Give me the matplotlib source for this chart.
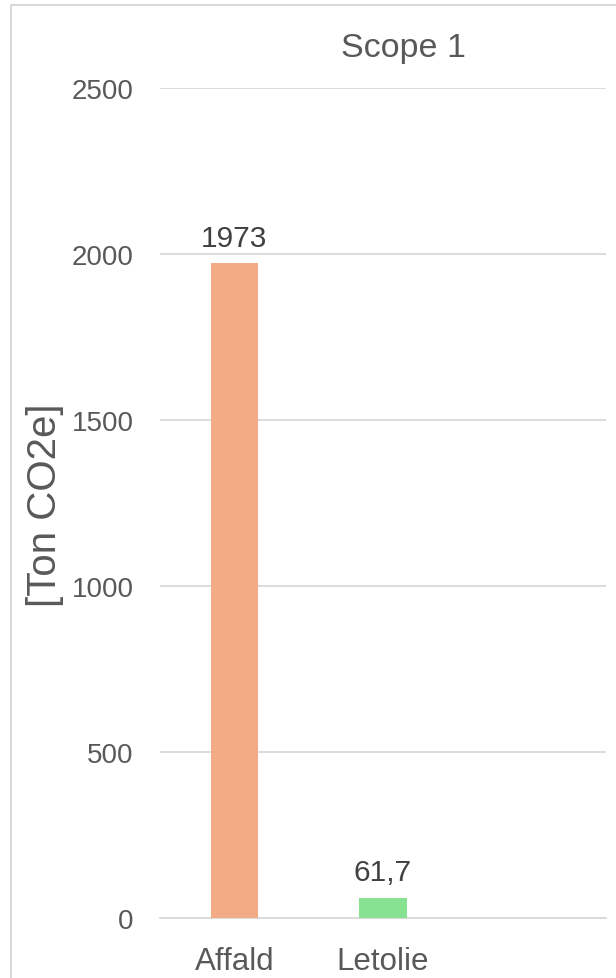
import matplotlib
matplotlib.use("Agg")
import matplotlib.pyplot as plt
from matplotlib.patches import Rectangle

categories = ["Affald", "Letolie", ""]
values = [1973, 61.7, 0]
labels = ["1973", "61,7", None]
bar_colors = ["#F2AB84", "#86E290", "#FFFFFF"]
yticks = [0, 500, 1000, 1500, 2000, 2500]

plt.rcParams['font.family'] = ['Liberation Sans', 'DejaVu Sans']

W, H = 616, 979
fig = plt.figure(figsize=(W / 100, H / 100), dpi=100)

# outer chart border (cropped on right/bottom)
fig.patches.append(Rectangle((11 / W, -0.1), 1.2, (H - 6) / H + 0.1,
                             transform=fig.transFigure, fill=False,
                             edgecolor="#D9D9D9", linewidth=1.5))

ax = fig.add_axes([160 / W, 1 - 919 / H, (606 - 160) / W, (919 - 89) / H])
x = list(range(len(categories)))
ax.bar(x[:2], values[:2], width=0.32, color=bar_colors[:2], zorder=3)
ax.set_xlim(-0.5, 2.5)
ax.set_ylim(0, 2500)
ax.set_yticks(yticks)
ax.set_yticklabels([str(t) for t in yticks])
ax.set_xticks(x)
ax.set_xticklabels(categories)
ax.grid(axis="y", color="#D9D9D9", linewidth=1.3, zorder=0)
for s in ["top", "right", "left"]:
    ax.spines[s].set_visible(False)
ax.spines["bottom"].set_color("#D9D9D9")
ax.spines["bottom"].set_linewidth(1.3)
ax.tick_params(axis="y", length=0, pad=19, labelsize=20, labelcolor="#595959")
ax.tick_params(axis="x", length=0, pad=20, labelsize=22.5, labelcolor="#595959")

for xi, v, lab in zip(x, values, labels):
    if lab:
        ax.annotate(lab, (xi, v), xytext=(0, 8), textcoords="offset points",
                    ha="center", va="bottom", fontsize=21.5, color="#404040")

fig.text(403 / W, 1 - 48 / H, "Scope 1", ha="center", va="center",
         fontsize=24.5, color="#595959")
fig.text(45 / W, 1 - 505 / H, "[Ton CO2e]", ha="center", va="center",
         rotation=90, fontsize=29, color="#595959")

fig.savefig("out.png", dpi=100, facecolor="white")
